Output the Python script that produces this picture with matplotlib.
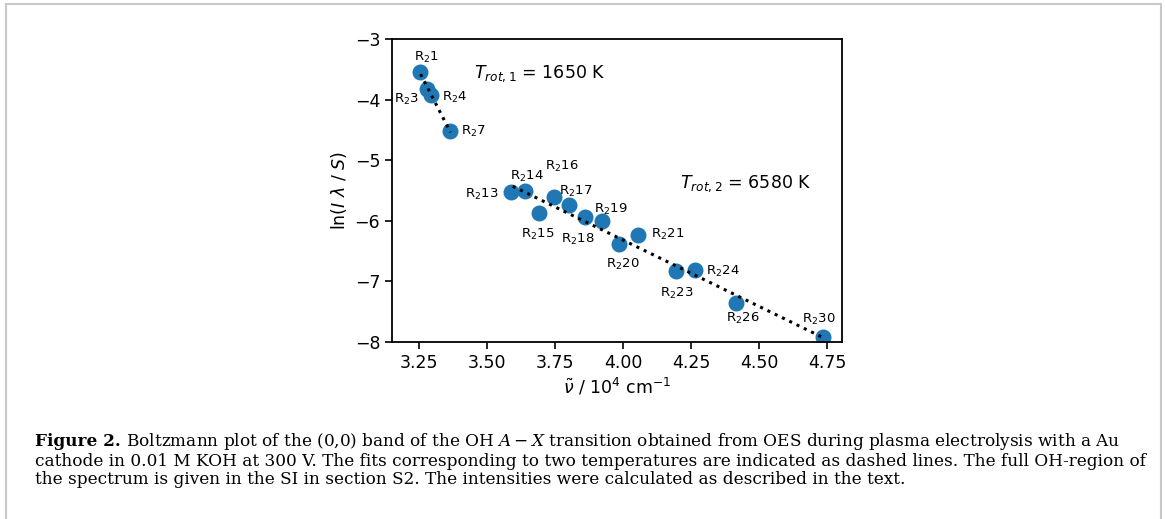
import numpy as np
import matplotlib
matplotlib.use("Agg")
from matplotlib import pyplot as plt
from matplotlib.lines import Line2D

# line labels (R2 branch) and read-off points
lines = ['1', '3', '4', '7', '13', '14', '15', '16', '17', '18', '19', '20',
         '21', '23', '24', '26', '30']
nu = [3.254, 3.277, 3.294, 3.365, 3.588, 3.640, 3.690, 3.745, 3.800, 3.860,
      3.921, 3.986, 4.054, 4.194, 4.265, 4.415, 4.736]
lnI = [-3.54, -3.82, -3.93, -4.52, -5.53, -5.51, -5.87, -5.61, -5.74, -5.94,
       -6.00, -6.38, -6.23, -6.83, -6.81, -7.35, -7.91]

# the two fits (end points)
fit1_x = [3.255, 3.365]
fit1_y = [-3.58, -4.54]
fit2_x = [3.594, 4.730]
fit2_y = [-5.43, -7.915]
T1 = 1650
T2 = 6580

# where the labels sit (data coords) and how they are aligned
lab_x = [3.276, 3.250, 3.333, 3.403, 3.540, 3.585, 3.625, 3.714, 3.764, 3.773,
         3.893, 3.936, 4.103, 4.136, 4.304, 4.378, 4.657]
lab_y = [-3.31, -4.00, -3.96, -4.52, -5.56, -5.26, -6.22, -5.11, -5.52, -6.31,
         -5.81, -6.72, -6.23, -7.20, -6.83, -7.61, -7.62]
lab_ha = ['center', 'right', 'left', 'left', 'right', 'left', 'left', 'left',
          'left', 'left', 'left', 'left', 'left', 'left', 'left', 'left', 'left']

caption = [
    ' Boltzmann plot of the (0,0) band of the OH $A-X$ transition obtained from OES during plasma electrolysis with a Au',
    'cathode in 0.01 M KOH at 300 V. The fits corresponding to two temperatures are indicated as dashed lines. The full OH-region of',
    'the spectrum is given in the SI in section S2. The intensities were calculated as described in the text.',
]

fig = plt.figure(figsize=(11.65, 5.19), dpi=100)
ax = fig.add_axes([0.3365, 0.341, 0.3862, 0.5839])

ax.scatter(nu, lnI, s=110, color='#1f77b4', zorder=2)
ax.plot(fit1_x, fit1_y, ':', color='black', linewidth=2.2, zorder=3)
ax.plot(fit2_x, fit2_y, ':', color='black', linewidth=2.2, zorder=3)

for i in range(len(lines)):
    ax.text(lab_x[i], lab_y[i], 'R$_2$' + lines[i], fontsize=9.5,
            ha=lab_ha[i], va='center')

ax.text(3.452, -3.58, r'$T_{rot,1}$ = %d K' % T1, fontsize=12.5, va='center')
ax.text(4.21, -5.39, r'$T_{rot,2}$ = %d K' % T2, fontsize=12.5, va='center')

ax.set_xlim(3.15, 4.805)
ax.set_ylim(-8, -3)
ax.set_xticks([3.25, 3.50, 3.75, 4.00, 4.25, 4.50, 4.75])
ax.set_yticks([-8, -7, -6, -5, -4, -3])
ax.tick_params(labelsize=12.5, length=5, width=1.2)
for s in ax.spines.values():
    s.set_linewidth(1.3)
ax.set_xlabel(r'$\tilde{\nu}$ / 10$^4$ cm$^{-1}$', fontsize=12.5, labelpad=3)
ax.set_ylabel(r'ln($I$ $\lambda$ / $S$)', fontsize=12.5, labelpad=4)

# caption box border
bc = '#c8c8c8'
fig.add_artist(Line2D([6/1165, 6/1165], [0, 1-4/519], color=bc, lw=1.5))
fig.add_artist(Line2D([6/1165, 1161/1165], [1-4/519, 1-4/519], color=bc, lw=1.5))
fig.add_artist(Line2D([1161/1165, 1161/1165], [0, 1-4/519], color=bc, lw=1.5))

# caption
cap_font = ['DejaVu Serif']
cap_size = 12.8
x0 = 35/1165
t0 = fig.text(x0, 1-442/519, 'Figure 2.', fontsize=cap_size, family=cap_font,
              fontweight='bold', va='center')
t1 = ax.annotate(caption[0], xy=(1, 0.5), xycoords=t0, va='center',
                 fontsize=cap_size, family=cap_font, math_fontfamily='dejavuserif',
                 annotation_clip=False)
t2 = fig.text(x0, 1-461/519, caption[1], fontsize=cap_size, family=cap_font, va='center')
t3 = fig.text(x0, 1-479/519, caption[2], fontsize=cap_size, family=cap_font, va='center')

# squeeze caption size so line 2 ends where it does in the print (two passes)
for _ in range(3):
    fig.canvas.draw()
    r = fig.canvas.get_renderer()
    w = t2.get_window_extent(r).width
    cap_size = cap_size * (1150 - 35) / w
    for t in (t0, t1, t2, t3):
        t.set_fontsize(cap_size)

fig.savefig('out.png', dpi=100)
